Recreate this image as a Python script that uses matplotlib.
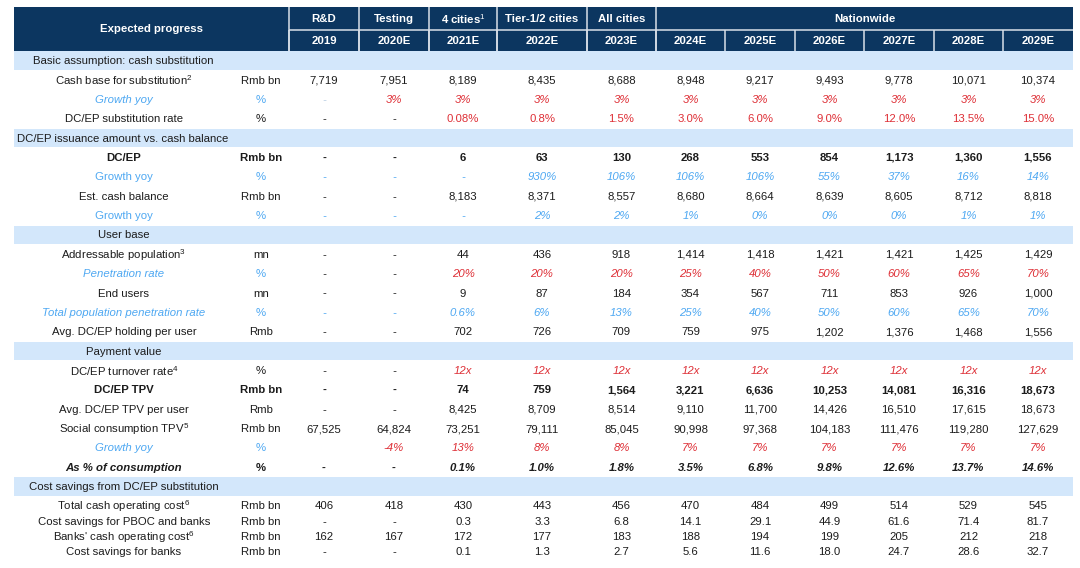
import matplotlib
matplotlib.use("Agg")
import matplotlib.pyplot as plt
from matplotlib.patches import Rectangle

plt.rcParams['font.family'] = ['Liberation Sans', 'DejaVu Sans']
plt.rcParams['mathtext.fontset'] = 'custom'
plt.rcParams['mathtext.rm'] = 'Liberation Sans'
plt.rcParams['mathtext.it'] = 'Liberation Sans:italic'
plt.rcParams['mathtext.bf'] = 'Liberation Sans:bold'

# ---------------- data ----------------
header_title = "Expected progress"
stages = ["R&D", "Testing", r"4 cities$^{1}$", "Tier-1/2 cities", "All cities", "Nationwide"]
stage_spans = [1, 1, 1, 1, 1, 6]
years = ["2019", "2020E", "2021E", "2022E", "2023E", "2024E", "2025E", "2026E", "2027E", "2028E", "2029E"]

cash_base = ["7,719", "7,951", "8,189", "8,435", "8,688", "8,948", "9,217", "9,493", "9,778", "10,071", "10,374"]
cash_growth = ["-", "3%", "3%", "3%", "3%", "3%", "3%", "3%", "3%", "3%", "3%"]
sub_rate = ["-", "-", "0.08%", "0.8%", "1.5%", "3.0%", "6.0%", "9.0%", "12.0%", "13.5%", "15.0%"]
dcep = ["-", "-", "6", "63", "130", "268", "553", "854", "1,173", "1,360", "1,556"]
dcep_growth = ["-", "-", "-", "930%", "106%", "106%", "106%", "55%", "37%", "16%", "14%"]
cash_balance = ["-", "-", "8,183", "8,371", "8,557", "8,680", "8,664", "8,639", "8,605", "8,712", "8,818"]
balance_growth = ["-", "-", "-", "2%", "2%", "1%", "0%", "0%", "0%", "1%", "1%"]
addressable = ["-", "-", "44", "436", "918", "1,414", "1,418", "1,421", "1,421", "1,425", "1,429"]
penetration = ["-", "-", "20%", "20%", "20%", "25%", "40%", "50%", "60%", "65%", "70%"]
end_users = ["-", "-", "9", "87", "184", "354", "567", "711", "853", "926", "1,000"]
total_pen = ["-", "-", "0.6%", "6%", "13%", "25%", "40%", "50%", "60%", "65%", "70%"]
avg_holding = ["-", "-", "702", "726", "709", "759", "975", "1,202", "1,376", "1,468", "1,556"]
turnover = ["-", "-", "12x", "12x", "12x", "12x", "12x", "12x", "12x", "12x", "12x"]
tpv = ["-", "-", "74", "759", "1,564", "3,221", "6,636", "10,253", "14,081", "16,316", "18,673"]
avg_tpv = ["-", "-", "8,425", "8,709", "8,514", "9,110", "11,700", "14,426", "16,510", "17,615", "18,673"]
social = ["67,525", "64,824", "73,251", "79,111", "85,045", "90,998", "97,368", "104,183", "111,476", "119,280", "127,629"]
social_growth = ["", "-4%", "13%", "8%", "8%", "7%", "7%", "7%", "7%", "7%", "7%"]
pct_consumption = ["-", "-", "0.1%", "1.0%", "1.8%", "3.5%", "6.8%", "9.8%", "12.6%", "13.7%", "14.6%"]
total_cost = ["406", "418", "430", "443", "456", "470", "484", "499", "514", "529", "545"]
savings_pboc = ["-", "-", "0.3", "3.3", "6.8", "14.1", "29.1", "44.9", "61.6", "71.4", "81.7"]
banks_cost = ["162", "167", "172", "177", "183", "188", "194", "199", "205", "212", "218"]
savings_banks = ["-", "-", "0.1", "1.3", "2.7", "5.6", "11.6", "18.0", "24.7", "28.6", "32.7"]

# ---------------- styles ----------------
NAVY = "#0c3660"
BAND = "#d3e7fb"
BLUE = "#4ea8f2"
RED = "#de2f36"
BLACK = "#1c1c1c"
PALE = "#b8cde2"
FS = 8.2

# style tuples: (label_color, label_weight, label_style, unit_color, dash_color, val_color, val_weight, val_style)
S_BLACK = (BLACK, "normal", "normal", BLACK, BLACK, BLACK, "normal", "normal")
S_BOLD = (BLACK, "bold", "normal", BLACK, BLACK, BLACK, "bold", "normal")
S_BOLDIT = (BLACK, "bold", "italic", BLACK, BLACK, BLACK, "bold", "italic")
S_GROWTH_RED = (BLUE, "normal", "italic", BLUE, PALE, RED, "normal", "italic")
S_GROWTH_BLUE = (BLUE, "normal", "normal", BLUE, BLUE, BLUE, "normal", "italic")
S_REDVAL = (BLACK, "normal", "normal", BLACK, BLACK, RED, "normal", "normal")
S_REDVAL_IT = (BLACK, "normal", "normal", BLACK, BLACK, RED, "normal", "italic")
S_PEN = (BLUE, "normal", "italic", BLUE, BLACK, RED, "normal", "italic")
S_TOTPEN = (BLUE, "normal", "italic", BLUE, BLUE, BLUE, "normal", "italic")

# rows: ("section", text, x, align) or ("data", label, unit, values, style)
rows = [
    ("section", "Basic assumption: cash substitution", 33, "left"),
    ("data", r"Cash base for substitution$^{2}$", "Rmb bn", cash_base, S_BLACK),
    ("data", "Growth yoy", "%", cash_growth, S_GROWTH_RED),
    ("data", "DC/EP substitution rate", "%", sub_rate, S_REDVAL),
    ("section", "DC/EP issuance amount vs. cash balance", 17, "left"),
    ("data", "DC/EP", "Rmb bn", dcep, S_BOLD),
    ("data", "Growth yoy", "%", dcep_growth, S_GROWTH_BLUE),
    ("data", "Est. cash balance", "Rmb bn", cash_balance, S_BLACK),
    ("data", "Growth yoy", "%", balance_growth, S_GROWTH_BLUE),
    ("section", "User base", 124, "center"),
    ("data", r"Addressable population$^{3}$", "mn", addressable, S_BLACK),
    ("data", "Penetration rate", "%", penetration, S_PEN),
    ("data", "End users", "mn", end_users, S_BLACK),
    ("data", "Total population penetration rate", "%", total_pen, S_TOTPEN),
    ("data", "Avg. DC/EP holding per user", "Rmb", avg_holding, S_BLACK),
    ("section", "Payment value", 124, "center"),
    ("data", r"DC/EP turnover rate$^{4}$", "%", turnover, S_REDVAL_IT),
    ("data", "DC/EP TPV", "Rmb bn", tpv, S_BOLD),
    ("data", "Avg. DC/EP TPV per user", "Rmb", avg_tpv, S_BLACK),
    ("data", r"Social consumption TPV$^{5}$", "Rmb bn", social, S_BLACK),
    ("data", "Growth yoy", "%", social_growth, S_GROWTH_RED),
    ("data", "As % of consumption", "%", pct_consumption, S_BOLDIT),
    ("section", "Cost savings from DC/EP substitution", 29, "left"),
    ("data", r"Total cash operating cost$^{6}$", "Rmb bn", total_cost, S_BLACK),
    ("data", "Cost savings for PBOC and banks", "Rmb bn", savings_pboc, S_BLACK),
    ("data", r"Banks' cash operating cost$^{6}$", "Rmb bn", banks_cost, S_BLACK),
    ("data", "Cost savings for banks", "Rmb bn", savings_banks, S_BLACK),
]

# ---------------- layout ----------------
X0, X1 = 14, 1073
col_edges = [289, 359, 429, 497, 587, 656, 725, 795, 864, 934, 1003, 1073]
label_cx = 124
unit_cx = 261
H_TOP, H_MID, H_BOT = 7, 29.5, 51
ROW_H = 19.36
TIGHT_H = 15.3

centers = []
y = H_BOT + ROW_H / 2
for i in range(len(rows)):
    centers.append(y)
    y += ROW_H if i < 23 else TIGHT_H

fig = plt.figure(figsize=(10.8, 5.68), dpi=100)
ax = fig.add_axes([0, 0, 1, 1])
ax.set_xlim(0, 1080)
ax.set_ylim(568, 0)
ax.axis("off")

# header background
ax.add_patch(Rectangle((X0, H_TOP), X1 - X0, H_BOT - H_TOP, facecolor=NAVY, edgecolor="none"))
ax.text((X0 + col_edges[0]) / 2, (H_TOP + H_BOT) / 2, header_title, color="white",
        fontsize=FS, fontweight="bold", ha="center", va="center")

LINE = "#d9e0e8"
ci = 0
for stage, span in zip(stages, stage_spans):
    xl, xr = col_edges[ci], col_edges[ci + span]
    ax.text((xl + xr) / 2, (H_TOP + H_MID) / 2 + 0.5, stage, color="white", fontsize=FS,
            fontweight="bold", ha="center", va="center")
    ax.plot([xl, xl], [H_TOP, H_BOT], color=LINE, lw=1.1, solid_capstyle="butt")
    ci += span
ax.plot([col_edges[0], X1], [H_MID, H_MID], color=LINE, lw=1.1, solid_capstyle="butt")
for k in range(len(years)):
    xl, xr = col_edges[k], col_edges[k + 1]
    ax.plot([xl, xl], [H_MID, H_BOT], color=LINE, lw=1.1, solid_capstyle="butt")
    ax.text((xl + xr) / 2, (H_MID + H_BOT) / 2 + 0.5, years[k], color="white", fontsize=FS,
            fontweight="bold", ha="center", va="center")

# body
for row, cy in zip(rows, centers):
    if row[0] == "section":
        _, text, tx, align = row
        ax.add_patch(Rectangle((X0, cy - 9.3), X1 - X0, 18.6, facecolor=BAND, edgecolor="none"))
        ax.text(tx, cy + 0.5, text, color=BLACK, fontsize=FS, ha=align, va="center")
        continue
    _, label, unit, vals, st = row
    lc, lw_, ls, uc, dc, vc, vw, vs = st
    ax.text(label_cx, cy + 0.5, label, color=lc, fontsize=FS, fontweight=lw_, fontstyle=ls,
            ha="center", va="center")
    ax.text(unit_cx, cy + 0.5, unit, color=uc, fontsize=FS, fontweight=vw,
            fontstyle="normal", ha="center", va="center")
    for k, v in enumerate(vals):
        cx = (col_edges[k] + col_edges[k + 1]) / 2
        if not v:
            continue
        ax.text(cx, cy + 0.5, v, color=dc if v == "-" else vc, fontsize=FS, fontweight=vw,
                fontstyle=vs, ha="center", va="center")

fig.savefig("out.png", dpi=100, facecolor="white")
